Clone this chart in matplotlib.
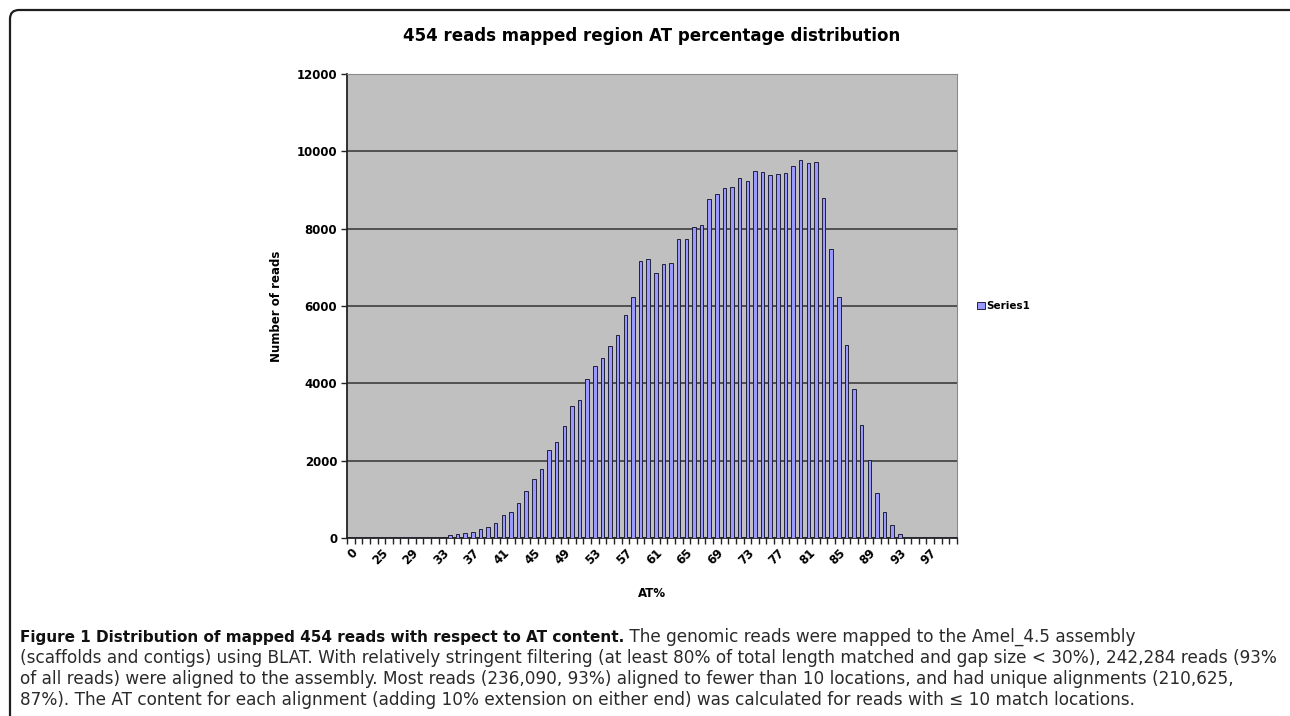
import matplotlib
matplotlib.use("Agg")
import matplotlib.pyplot as plt
from matplotlib.patches import FancyBboxPatch
import numpy as np

# AT% categories (the sheet jumps from 0 straight to 22)
at_labels = ["0", "22", "23", "24", "25", "26", "27", "28", "29", "30",
             "31", "32", "33", "34", "35", "36", "37", "38", "39", "40",
             "41", "42", "43", "44", "45", "46", "47", "48", "49", "50",
             "51", "52", "53", "54", "55", "56", "57", "58", "59", "60",
             "61", "62", "63", "64", "65", "66", "67", "68", "69", "70",
             "71", "72", "73", "74", "75", "76", "77", "78", "79", "80",
             "81", "82", "83", "84", "85", "86", "87", "88", "89", "90",
             "91", "92", "93", "94", "95", "96", "97", "98", "99", "100"]

# number of reads per AT% bin
reads = [20, 15, 15, 18, 18, 20, 20, 20, 22, 22,
         22, 25, 28, 70, 100, 130, 155, 233, 295, 400,
         600, 685, 915, 1204, 1531, 1789, 2265, 2485, 2893, 3420,
         3565, 4100, 4460, 4655, 4965, 5258, 5775, 6232, 7163, 7224,
         6853, 7077, 7103, 7732, 7732, 8034, 8086, 8775, 8896, 9060,
         9085, 9318, 9232, 9491, 9456, 9379, 9404, 9430, 9629, 9767,
         9689, 9715, 8784, 7482, 6232, 5000, 3845, 2914, 2026, 1155,
         670, 330, 95, 20, 18, 15, 15, 15, 15, 15]

yticks = [0, 2000, 4000, 6000, 8000, 10000, 12000]

caption_bold = "Figure 1 Distribution of mapped 454 reads with respect to AT content."
caption_lines = [
    " The genomic reads were mapped to the Amel_4.5 assembly",
    "(scaffolds and contigs) using BLAT. With relatively stringent filtering (at least 80% of total length matched and gap size < 30%), 242,284 reads (93%",
    "of all reads) were aligned to the assembly. Most reads (236,090, 93%) aligned to fewer than 10 locations, and had unique alignments (210,625,",
    "87%). The AT content for each alignment (adding 10% extension on either end) was calculated for reads with \u2264 10 match locations.",
]

W, H = 1290, 716
fig = plt.figure(figsize=(W / 100, H / 100), dpi=100)
ax = fig.add_axes([347 / W, 1 - 538 / H, (957 - 347) / W, (538 - 74) / H])

x = np.arange(len(reads))
ax.set_facecolor("#c0c0c0")
ax.bar(x, reads, width=0.45, color="#9999ff", edgecolor="#20203a",
       linewidth=0.7, zorder=3, label="Series1")

ax.set_xlim(-0.5, len(reads) - 0.5)
ax.set_ylim(0, 12000)
ax.set_yticks(yticks)
ax.set_yticklabels([str(v) for v in yticks], fontsize=8.5, fontweight="bold")
ax.yaxis.grid(True, color="#333333", linewidth=1.1, zorder=1)
ax.set_axisbelow(True)

# tick marks at the category edges, labels on every 4th category
ax.set_xticks(np.arange(len(reads) + 1) - 0.5)
ax.set_xticklabels([])
ax.set_xticks(x[::4], minor=True)
ax.set_xticklabels(at_labels[::4], minor=True, rotation=45, ha="right",
                   rotation_mode="anchor", fontsize=8.5, fontweight="bold")
ax.tick_params(axis="x", which="major", length=4, width=1, color="#222222")
ax.tick_params(axis="x", which="minor", length=0, pad=6)
ax.tick_params(axis="y", length=4, width=1, color="#222222", pad=3)

for s in ["left", "bottom"]:
    ax.spines[s].set_color("#222222")
    ax.spines[s].set_linewidth(1.3)
ax.spines["top"].set_color("#8a8a8a")
ax.spines["right"].set_color("#8a8a8a")

ax.set_xlabel("AT%", fontsize=8.5, fontweight="bold", labelpad=14)
ax.set_ylabel("Number of reads", fontsize=8.5, fontweight="bold", labelpad=10)
ax.set_title("454 reads mapped region AT percentage distribution",
             fontsize=12, fontweight="bold", pad=24)

leg = ax.legend(loc="center left", bbox_to_anchor=(1.018, 0.5), frameon=False,
                prop={"size": 7.5, "weight": "bold"}, handlelength=0.7,
                handleheight=0.7, handletextpad=0.2)

# outer rounded frame (only top and left edges fall inside the image)
frame = FancyBboxPatch((10, -40), W + 40, H - 10 + 40,
                       boxstyle="round,pad=0,rounding_size=9",
                       transform=None, fill=False, edgecolor="#1e1e1e",
                       linewidth=1.6)
fig.add_artist(frame)

# caption
y0 = 1 - 642 / H
dy = 21 / H
t = fig.text(20 / W, y0, caption_bold, fontsize=11, fontweight="bold",
             color="#111111", va="baseline")
fig.canvas.draw()
bb = t.get_window_extent()
fig.text(bb.x1 / W, y0, caption_lines[0], fontsize=12.2,
         color="#2a2a2a", va="baseline")
for i, line in enumerate(caption_lines[1:]):
    fig.text(20 / W, y0 - (i + 1) * dy, line, fontsize=12.2,
             color="#2a2a2a", va="baseline")

fig.savefig("out.png", dpi=100)
